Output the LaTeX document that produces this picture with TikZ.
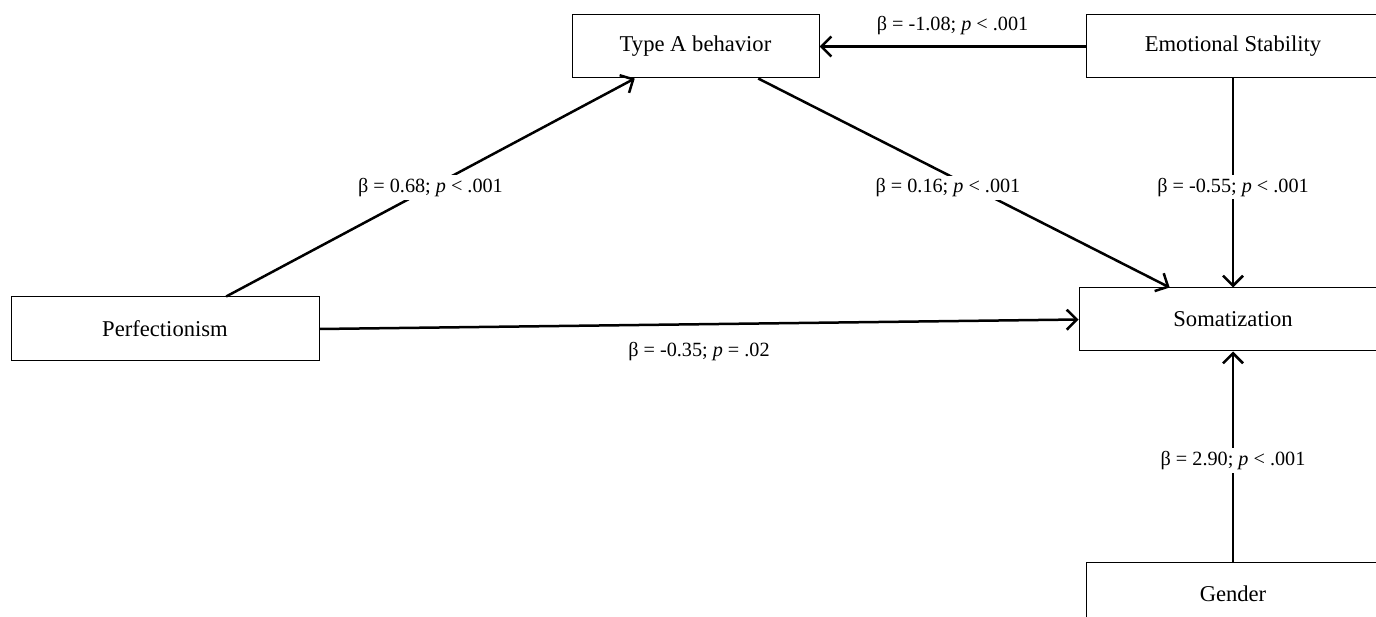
\documentclass[tikz,border=0pt]{standalone}
\usepackage{fontspec}
\setmainfont{Liberation Serif}
\usetikzlibrary{arrows.meta,calc}
\begin{document}
\begin{tikzpicture}[x=1pt,y=-1pt,
  box/.style={draw,line width=1pt,inner sep=0pt,font=\fontsize{22.6}{26}\selectfont},
  conn/.style={line width=2.5pt,-{Straight Barb[length=10pt,width=20pt,line width=2.5pt]}},
  lab/.style={fill=white,inner sep=3pt,font=\fontsize{20.2}{24}\selectfont}]
\useasboundingbox (0,0) rectangle (1376,617);
\clip (0,0) rectangle (1376,617);
\node[box,minimum width=247pt,minimum height=63pt] (typea) at (695.5,46.5) {Type A behavior};
\node[box,minimum width=294pt,minimum height=63pt] (emo) at (1233,46.5) {Emotional Stability};
\node[box,minimum width=308pt,minimum height=64pt] (perf) at (165,329) {Perfectionism};
\node[box,minimum width=308pt,minimum height=63pt] (soma) at (1233,319.5) {Somatization};
\node[box,minimum width=294pt,minimum height=63pt] (gender) at (1233,593.5) {Gender};
\coordinate (p1) at ($(perf.north west)!0.698!(perf.north east)$);
\coordinate (t1) at ($(typea.south west)!0.255!(typea.south east)$);
\coordinate (t2) at ($(typea.south west)!0.753!(typea.south east)$);
\coordinate (s1) at ($(soma.north west)!0.295!(soma.north east)$);
\draw[conn] (p1) -- node[lab,pos=0.5] {β = 0.68; \textit{p} < .001} (t1);
\draw[conn] (t2) -- node[lab,pos=0.5,xshift=-16pt,yshift=-5pt] {β = 0.16; \textit{p} < .001} (s1);
\draw[conn] (emo.west) -- node[lab,above=7pt,fill=none] {β = -1.08; \textit{p} < .001} (typea.east);
\draw[conn] (emo.south) -- node[lab,pos=0.52] {β = -0.55; \textit{p} < .001} (soma.north);
\draw[conn] (perf.east) -- node[lab,below=14pt,fill=none] {β = -0.35; \textit{p} = .02} (soma.west);
\draw[conn] (gender.north) -- node[lab,pos=0.48] {β = 2.90; \textit{p} < .001} (soma.south);
\end{tikzpicture}
\end{document}
